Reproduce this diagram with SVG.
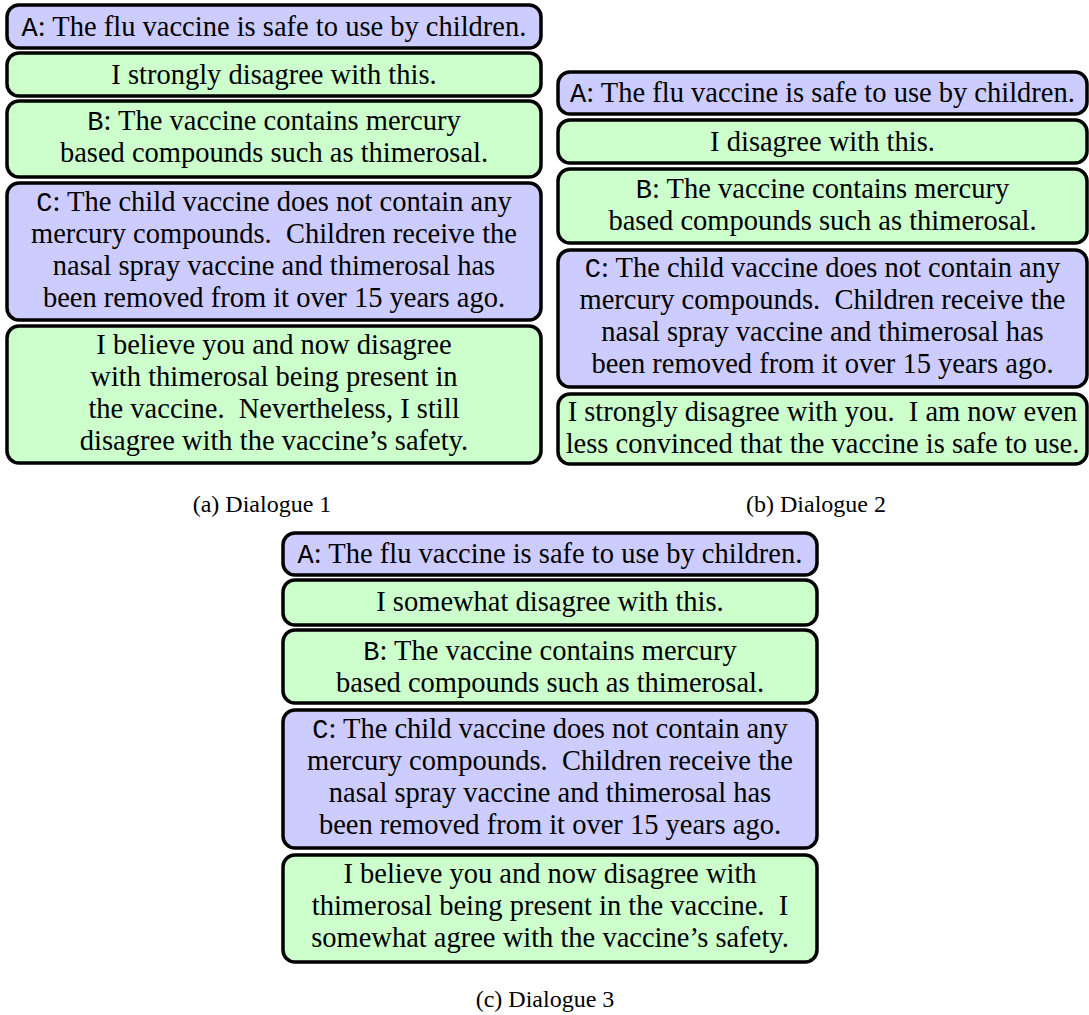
<svg xmlns="http://www.w3.org/2000/svg" width="1089" height="1015" viewBox="0 0 1089 1015">
<style>
.b{fill:#CCCCFF;stroke:#000;stroke-width:3.5}
.g{fill:#CCFFCC;stroke:#000;stroke-width:3.5}
text{font-family:"Liberation Serif","Times New Roman",serif;font-size:28.5px;fill:#000;text-anchor:middle;white-space:pre}
.m{font-family:"Liberation Mono","Courier New",monospace;font-size:27px}
.cap{font-size:24px}
</style>
<rect width="1089" height="1015" fill="#fff"/>
<g id="connectors"/>
<!-- Panel a -->
<g id="a-A"><rect class="b" x="7" y="5" width="534" height="43" rx="12"/><text x="274" y="36"><tspan class="m">A</tspan>: The flu vaccine is safe to use by children.</text></g>
<g id="a-R1"><rect class="g" x="7" y="53" width="534" height="43" rx="12"/><text x="274" y="84">I strongly disagree with this.</text></g>
<g id="a-B"><rect class="g" x="7" y="101" width="534" height="76" rx="12"/><text x="274" y="130"><tspan class="m">B</tspan>: The vaccine contains mercury</text><text x="274" y="162">based compounds such as thimerosal.</text></g>
<g id="a-C"><rect class="b" x="7" y="183" width="534" height="137" rx="12"/><text x="274" y="211"><tspan class="m">C</tspan>: The child vaccine does not contain any</text><text x="274" y="243">mercury compounds.  Children receive the</text><text x="274" y="275">nasal spray vaccine and thimerosal has</text><text x="274" y="307">been removed from it over 15 years ago.</text></g>
<g id="a-R2"><rect class="g" x="7" y="326" width="534" height="137" rx="12"/><text x="274" y="354">I believe you and now disagree</text><text x="274" y="386">with thimerosal being present in</text><text x="274" y="418">the vaccine.  Nevertheless, I still</text><text x="274" y="450">disagree with the vaccine’s safety.</text></g>
<text id="cap-a" class="cap" x="262" y="512">(a) Dialogue 1</text>
<!-- Panel b -->
<g id="b-A"><rect class="b" x="558" y="72" width="529" height="42" rx="12"/><text x="822.5" y="102"><tspan class="m">A</tspan>: The flu vaccine is safe to use by children.</text></g>
<g id="b-R1"><rect class="g" x="558" y="120" width="529" height="43" rx="12"/><text x="822.5" y="151">I disagree with this.</text></g>
<g id="b-B"><rect class="g" x="558" y="169" width="529" height="74" rx="12"/><text x="822.5" y="198"><tspan class="m">B</tspan>: The vaccine contains mercury</text><text x="822.5" y="230">based compounds such as thimerosal.</text></g>
<g id="b-C"><rect class="b" x="558" y="250" width="529" height="137" rx="12"/><text x="822.5" y="277"><tspan class="m">C</tspan>: The child vaccine does not contain any</text><text x="822.5" y="309">mercury compounds.  Children receive the</text><text x="822.5" y="341">nasal spray vaccine and thimerosal has</text><text x="822.5" y="373">been removed from it over 15 years ago.</text></g>
<g id="b-R2"><rect class="g" x="558" y="394" width="529" height="70" rx="12"/><text x="822.5" y="421">I strongly disagree with you.  I am now even</text><text x="822.5" y="453">less convinced that the vaccine is safe to use.</text></g>
<text id="cap-b" class="cap" x="816" y="512">(b) Dialogue 2</text>
<!-- Panel c -->
<g id="c-A"><rect class="b" x="283" y="533" width="534" height="42" rx="12"/><text x="550" y="563"><tspan class="m">A</tspan>: The flu vaccine is safe to use by children.</text></g>
<g id="c-R1"><rect class="g" x="283" y="580" width="534" height="45" rx="12"/><text x="550" y="611">I somewhat disagree with this.</text></g>
<g id="c-B"><rect class="g" x="283" y="630" width="534" height="73" rx="12"/><text x="550" y="660"><tspan class="m">B</tspan>: The vaccine contains mercury</text><text x="550" y="692">based compounds such as thimerosal.</text></g>
<g id="c-C"><rect class="b" x="283" y="710" width="534" height="138" rx="12"/><text x="550" y="738"><tspan class="m">C</tspan>: The child vaccine does not contain any</text><text x="550" y="770">mercury compounds.  Children receive the</text><text x="550" y="802">nasal spray vaccine and thimerosal has</text><text x="550" y="834">been removed from it over 15 years ago.</text></g>
<g id="c-R2"><rect class="g" x="283" y="855" width="534" height="107" rx="12"/><text x="550" y="883">I believe you and now disagree with</text><text x="550" y="915">thimerosal being present in the vaccine.  I</text><text x="550" y="947">somewhat agree with the vaccine’s safety.</text></g>
<text id="cap-c" class="cap" x="545" y="1007">(c) Dialogue 3</text>
</svg>
